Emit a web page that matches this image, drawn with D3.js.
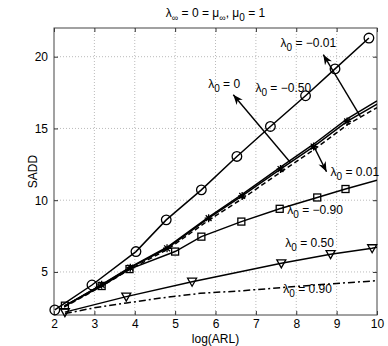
<!DOCTYPE html>
<html>
<head>
<meta charset="utf-8">
<script src="https://cdn.jsdelivr.net/npm/d3@7"></script>
<style>
  body { margin: 0; background: #fff; }
  svg { font-family: "Liberation Sans", Arial, sans-serif; }
</style>
</head>
<body>
<div id="chart"></div>
<script>
// valeurs : x = log(ARL), y = SADD
var circleX = [2.02, 2.94, 4.03, 4.78, 5.65, 6.53, 7.36, 8.23, 8.96, 9.80];
var circleY = [2.35, 4.09, 6.42, 8.63, 10.72, 13.05, 15.14, 17.28, 19.15, 21.3];

var clusterX = [2.25, 3.18, 3.89, 4.80, 5.83, 6.66, 7.61, 8.43, 9.26, 10];
var starY    = [2.60, 4.10, 5.30, 6.65, 8.75, 10.30, 12.17, 13.74, 15.49, 16.70];
var plainY   = [2.60, 4.12, 5.34, 6.72, 8.82, 10.40, 12.30, 13.90, 15.66, 16.92];
var dashedY  = [2.55, 4.00, 5.20, 6.55, 8.60, 10.10, 11.95, 13.50, 15.25, 16.45];

var squareX = [2.27, 3.18, 3.87, 5.00, 5.65, 6.64, 7.59, 8.52, 9.22, 10];
var squareY = [2.65, 4.02, 5.20, 6.42, 7.46, 8.51, 9.40, 10.19, 10.78, 11.40];

var triX = [2.27, 3.79, 5.42, 7.63, 8.85, 9.88, 10];
var triY = [2.20, 3.28, 4.32, 5.60, 6.24, 6.65, 6.72];

var dashDotX = [2.27, 3.00, 3.80, 4.70, 5.62, 6.62, 7.80, 9.00, 10];
var dashDotY = [2.10, 2.50, 2.84, 3.20, 3.51, 3.68, 3.95, 4.20, 4.39];

var xTicks = [2, 3, 4, 5, 6, 7, 8, 9, 10];
var yTicks = [5, 10, 15, 20];

// annotations : texte (valeur de lambda_0), position du texte, flèche éventuelle
var labelText = ["\u22120.01", "\u22120.50", "0", "0.01", "\u22120.90", "0.50", "0.90"];
var labelPos  = [[7.61, 20.70], [6.99, 17.56], [5.82, 17.84], [8.85, 11.70], [7.78, 9.05], [7.73, 6.75], [7.68, 3.54]];
var arrows = [
  {from: [9.59, 15.82], to: [8.67, 20.14]},
  {from: [7.86, 12.61], to: [6.44, 17.35]},
  {from: [8.43, 13.79], to: [8.75, 11.98]}
];

// Dimensions du graphique et marges
var margin = {top: 28, right: 11, bottom: 31, left: 54},
    width = 388 - margin.left - margin.right,
    height = 346 - margin.top - margin.bottom;

var svgRoot = d3.select("#chart")
  .append("svg")
    .attr("width", 388)
    .attr("height", 346);

var svg = svgRoot.append("g")
    .attr("transform", "translate(" + margin.left + "," + margin.top + ")");

var x = d3.scaleLinear().domain([2, 10]).range([0, width]);
var y = d3.scaleLinear().domain([2, 22]).range([height, 0]);

svg.append("defs").append("clipPath").attr("id", "clip")
  .append("rect").attr("width", width).attr("height", height);

// grille pointillée
svg.append("g").selectAll("line.gx")
  .data(xTicks.slice(1, -1)).enter().append("line")
    .attr("x1", function(d) { return x(d); }).attr("x2", function(d) { return x(d); })
    .attr("y1", 0).attr("y2", height)
    .attr("stroke", "#bbb").attr("stroke-dasharray", "1,2");
svg.append("g").selectAll("line.gy")
  .data(yTicks).enter().append("line")
    .attr("y1", function(d) { return y(d); }).attr("y2", function(d) { return y(d); })
    .attr("x1", 0).attr("x2", width)
    .attr("stroke", "#bbb").attr("stroke-dasharray", "1,2");

// Axe X (ticks vers l'intérieur, style matlab)
svg.append("g")
  .attr("transform", "translate(0," + height + ")")
  .call(d3.axisBottom(x).tickValues(xTicks).tickSizeInner(-4).tickSizeOuter(0).tickPadding(4));
svg.append("g")
  .call(d3.axisTop(x).tickValues(xTicks).tickSizeInner(-4).tickSizeOuter(0).tickFormat(""));
// Axe Y
svg.append("g")
  .call(d3.axisLeft(y).tickValues(yTicks).tickSizeInner(-4).tickSizeOuter(0).tickPadding(6));
svg.append("g")
  .attr("transform", "translate(" + width + ",0)")
  .call(d3.axisRight(y).tickValues(yTicks).tickSizeInner(-4).tickSizeOuter(0).tickFormat(""));

svg.selectAll(".domain").remove();
svg.selectAll(".tick line").attr("stroke", "#333");
svg.selectAll(".tick text").attr("font-size", 12).attr("fill", "#000")
  .attr("font-family", "Liberation Sans, Arial, sans-serif");

svg.append("rect")
  .attr("width", width).attr("height", height)
  .attr("fill", "none").attr("stroke", "#444").attr("stroke-width", 1);

// courbes
var plot = svg.append("g").attr("clip-path", "url(#clip)");
function zip(xs, ys) { return xs.map(function(v, i) { return [v, ys[i]]; }); }
var line = d3.line().x(function(d) { return x(d[0]); }).y(function(d) { return y(d[1]); });

function drawLine(pts, dash) {
  plot.append("path").datum(pts)
    .attr("d", line)
    .attr("fill", "none").attr("stroke", "#000").attr("stroke-width", 1.5)
    .attr("stroke-dasharray", dash || null);
}

var circles = zip(circleX, circleY),
    stars = zip(clusterX, starY),
    plain = zip(clusterX, plainY),
    dashed = zip(clusterX, dashedY),
    squares = zip(squareX, squareY),
    tris = zip(triX, triY),
    dashDot = zip(dashDotX, dashDotY);

drawLine(dashDot, "7,3,2,3");
drawLine(tris);
drawLine(squares);
drawLine(dashed, "5,3");
drawLine(plain);
drawLine(stars);
drawLine(circles);

// marqueurs (pas de marqueur sur le point à la borne x = 10)
function inside(d) { return d[0] < 9.95; }
var mk = svg.append("g").attr("fill", "none").attr("stroke", "#000").attr("stroke-width", 1.3);

mk.selectAll("circle").data(circles.filter(inside)).enter().append("circle")
  .attr("cx", function(d) { return x(d[0]); }).attr("cy", function(d) { return y(d[1]); })
  .attr("r", 4.8);

mk.selectAll("rect").data(squares.filter(inside)).enter().append("rect")
  .attr("x", function(d) { return x(d[0]) - 3.5; }).attr("y", function(d) { return y(d[1]) - 3.5; })
  .attr("width", 7).attr("height", 7);

mk.selectAll("path.tri").data(tris.filter(inside)).enter().append("path")
  .attr("class", "tri")
  .attr("d", function(d) {
    var cx = x(d[0]), cy = y(d[1]);
    return "M" + (cx - 4.5) + "," + (cy - 3.5) + "L" + (cx + 4.5) + "," + (cy - 3.5) + "L" + cx + "," + (cy + 4.5) + "Z";
  });

mk.selectAll("path.star").data(stars.filter(inside).slice(1)).enter().append("path")
  .attr("class", "star")
  .attr("d", function(d) {
    var cx = x(d[0]), cy = y(d[1]), r = 4, s = 2.9;
    return "M" + (cx - r) + "," + cy + "H" + (cx + r) +
           "M" + cx + "," + (cy - r) + "V" + (cy + r) +
           "M" + (cx - s) + "," + (cy - s) + "L" + (cx + s) + "," + (cy + s) +
           "M" + (cx - s) + "," + (cy + s) + "L" + (cx + s) + "," + (cy - s);
  });

// flèches d'annotation
function arrowHead(x0, y0, x1, y1) {
  var a = Math.atan2(y1 - y0, x1 - x0), L = 10, W = 4;
  var bx = x1 - L * Math.cos(a), by = y1 - L * Math.sin(a);
  var nx = x1 - 0.7 * L * Math.cos(a), ny = y1 - 0.7 * L * Math.sin(a);
  return "M" + x1 + "," + y1 +
    "L" + (bx + W * Math.sin(a)) + "," + (by - W * Math.cos(a)) +
    "L" + nx + "," + ny +
    "L" + (bx - W * Math.sin(a)) + "," + (by + W * Math.cos(a)) + "Z";
}
var arr = svg.append("g");
arrows.forEach(function(a) {
  var x0 = x(a.from[0]), y0 = y(a.from[1]), x1 = x(a.to[0]), y1 = y(a.to[1]);
  arr.append("line").attr("x1", x0).attr("y1", y0).attr("x2", x1).attr("y2", y1)
    .attr("stroke", "#000").attr("stroke-width", 1.4);
  arr.append("path").attr("d", arrowHead(x0, y0, x1, y1)).attr("fill", "#000");
});

// étiquettes lambda_0 = ...
labelText.forEach(function(t, i) {
  var txt = svg.append("text")
    .attr("x", x(labelPos[i][0])).attr("y", y(labelPos[i][1]))
    .attr("font-size", 12).attr("fill", "#000");
  txt.append("tspan").text("\u03bb");
  txt.append("tspan").attr("dy", 4).attr("font-size", 10).text("0");
  txt.append("tspan").attr("dy", -4).text(" = " + t);
});

// titre
var title = svgRoot.append("text")
  .attr("x", margin.left + width / 2).attr("y", 17)
  .attr("text-anchor", "middle").attr("font-size", 12);
title.append("tspan").text("\u03bb");
title.append("tspan").attr("dy", 4).attr("font-size", 9).text("\u221e");
title.append("tspan").attr("dy", -4).text(" = 0 = \u03bc");
title.append("tspan").attr("dy", 4).attr("font-size", 9).text("\u221e");
title.append("tspan").attr("dy", -4).text(", \u03bc");
title.append("tspan").attr("dy", 4).attr("font-size", 10).text("0");
title.append("tspan").attr("dy", -4).text(" = 1");

// titres des axes
svgRoot.append("text")
  .attr("x", margin.left + width / 2).attr("y", 343)
  .attr("text-anchor", "middle").attr("font-size", 12)
  .text("log(ARL)");
svgRoot.append("text")
  .attr("transform", "translate(37," + (margin.top + height / 2) + ") rotate(-90)")
  .attr("text-anchor", "middle").attr("font-size", 12)
  .text("SADD");
</script>
</body>
</html>
